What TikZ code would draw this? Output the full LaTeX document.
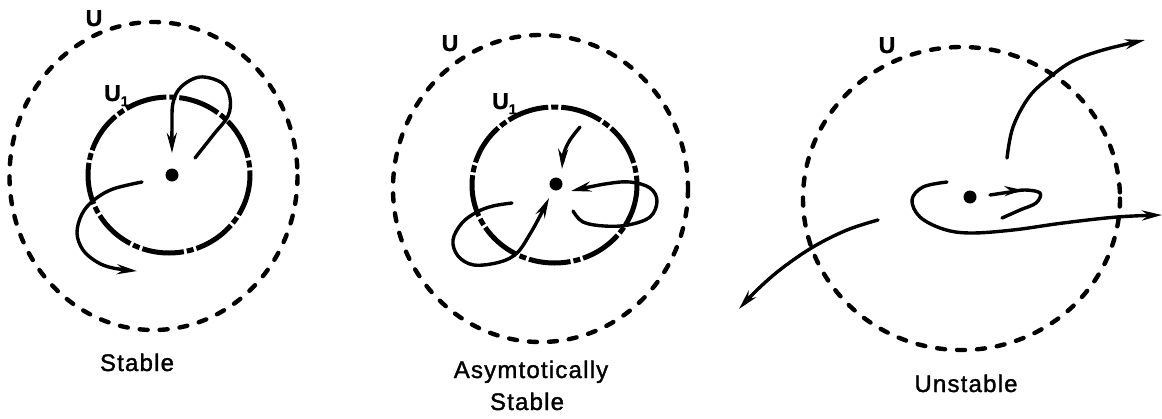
\documentclass[tikz,border=0pt]{standalone}
\usepackage{fontspec}
\setmainfont{Liberation Sans}
\newfontfamily\lblfont{Liberation Sans}[LetterSpace=5,FakeBold=1.4]
\newfontfamily\ufont{Liberation Sans Bold}[FakeBold=1]
\usetikzlibrary{arrows.meta,decorations.markings}
\tikzset{
  outer/.style={line width=4.4pt, dash pattern=on 8pt off 12pt, line cap=round},
  inner/.style={line width=5pt, dash pattern=on 42pt off 3pt on 7pt off 3pt},
  traj/.style={line width=3.4pt, line cap=round},
  arr/.style={-{Stealth[length=20pt,width=10pt]}},
  lbl/.style={font=\lblfont\fontsize{24}{32}\selectfont, inner sep=0pt, anchor=base},
  ulbl/.style={font=\ufont\fontsize{23}{24}\selectfont, inner sep=0pt, anchor=base},
  dotnode/.style={circle, fill, inner sep=0pt, minimum size=13pt},
  midarrow/.style={postaction={decorate}, decoration={markings,
      mark=at position #1 with {\arrow{Stealth[length=18pt,width=10pt]}}}},
}
\begin{document}
\begin{tikzpicture}[x=1pt,y=-1pt]
\useasboundingbox (0,0) rectangle (1162,418);

% ---------- Panel 1: Stable ----------
\draw[outer] (153.5,176) ellipse [x radius=144, y radius=154];
\draw[inner] (169,175) ellipse [x radius=81, y radius=78];
\node[dotnode] (d1) at (172,175) {};
\node[ulbl] (U1) at (94,26) {U};
\node[ulbl, anchor=base west] (Ua1) at (104,101) {U\raisebox{-5pt}{\fontsize{14}{14}\selectfont 1}};
\draw[traj,arr] plot[smooth,tension=0.6] coordinates {(195,158) (214,134) (228,116) (230,98) (222,83) (200,77) (181,87) (173,103) (172,127) (172,153)};
\draw[traj,arr] plot[smooth,tension=0.6] coordinates {(142,182) (113,189) (94,200) (82,214) (77,233) (83,250) (97,262) (113,268) (137,271)};
\node[lbl] (L1) at (137,371) {Stable};

% ---------- Panel 2: Asymptotically stable ----------
\draw[outer] (540.5,188.5) ellipse [x radius=147.5, y radius=153.5];
\draw[inner] (554.5,185) ellipse [x radius=82.5, y radius=78];
\node[dotnode] (d2) at (556,184) {};
\node[ulbl] (U2) at (450,51) {U};
\node[ulbl, anchor=base west] (Ua2) at (492,109) {U\raisebox{-5pt}{\fontsize{14}{14}\selectfont 1}};
\draw[traj,arr] plot[smooth,tension=0.6] coordinates {(580,127) (570,140) (564,153) (562,169)};
\draw[traj,arr] plot[smooth,tension=0.6] coordinates {(573,211) (583,222) (604,226) (628,225) (650,217) (657,201) (650,188) (630,182) (605,184) (571,191)};
\draw[traj,arr] plot[smooth,tension=0.6] coordinates {(512,203) (493,206) (477,212) (462,223) (453,240) (458,256) (474,265) (500,262) (517,253) (530,234) (540,216) (549,198)};
\node[lbl] (L2a) at (531,378) {Asymtotically};
\node[lbl] (L2b) at (527,410) {Stable};

% ---------- Panel 3: Unstable ----------
\draw[outer] (961.5,198.5) ellipse [x radius=158.5, y radius=151.5];
\node[dotnode] (d3) at (970,197) {};
\node[ulbl] (U3) at (887,53) {U};
\draw[traj,arr] plot[smooth,tension=0.6] coordinates {(1007,158) (1013,127) (1029,97) (1050,77) (1073,61) (1103,50) (1145,40)};
\draw[traj,arr] plot[smooth,tension=0.6] coordinates {(878,220) (847,230) (813,247) (781,269) (757,290) (739,309)};
\draw[traj,arr] plot[smooth,tension=0.6] coordinates {(947,182) (923,187) (912,200) (920,217) (943,229) (970,233) (1013,230) (1063,223) (1117,217) (1162,215)};
\draw[traj,midarrow=0.33] plot[smooth,tension=0.6] coordinates {(990,195) (1010,192) (1025,190) (1040,193) (1036,203) (1020,210) (1002,218)};
\node[lbl] (L3) at (966,392) {Unstable};
\end{tikzpicture}
\end{document}
